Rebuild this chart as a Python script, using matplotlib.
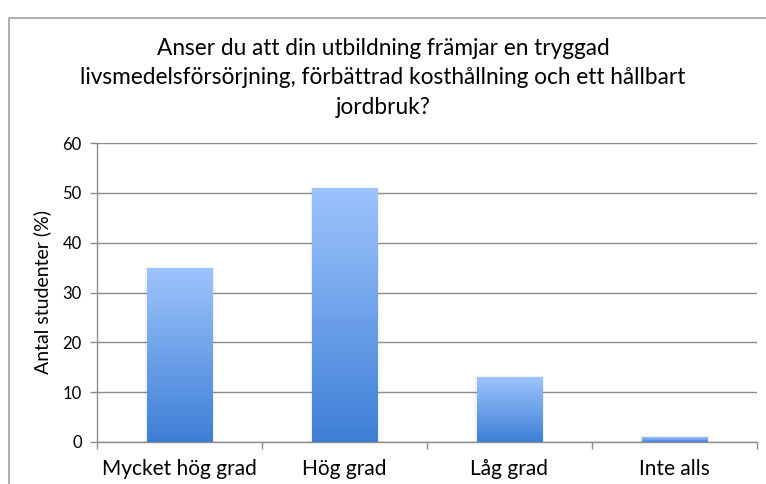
import matplotlib.pyplot as plt
import numpy as np
from matplotlib.colors import LinearSegmentedColormap
from matplotlib.lines import Line2D

categories = ["Mycket hög grad", "Hög grad", "Låg grad", "Inte alls"]
values = [35, 51, 13, 1]
yticks = [0, 10, 20, 30, 40, 50, 60]
title = ("Anser du att din utbildning främjar en tryggad\n"
         "livsmedelsförsörjning, förbättrad kosthållning och ett hållbart\n"
         "jordbruk?")
ylabel = "Antal studenter (%)"

plt.rcParams['font.family'] = ['Lato', 'DejaVu Sans']

W, H = 766, 484
fig = plt.figure(figsize=(W / 100, H / 100), dpi=100)
ax = fig.add_axes([97 / W, 1 - 442 / H, (757 - 97) / W, (442 - 143) / H])

grid_c = "#8c8c8c"
cmap = LinearSegmentedColormap.from_list("bar", ["#3d7fd6", "#9ec4fd"])
x = np.arange(len(categories))
bars = ax.bar(x, values, width=0.4, color="none", edgecolor="none", zorder=3)
grad = np.linspace(0, 1, 256).reshape(-1, 1)
for b in bars:
    x0, w, h = b.get_x(), b.get_width(), b.get_height()
    # soft shadow behind the bar
    ax.bar(x0 + w / 2, h + 0.2, width=w + 0.015, color="#000000", alpha=0.05,
           zorder=2.5, edgecolor="none")
    im = ax.imshow(grad, cmap=cmap, origin="lower", aspect="auto",
                   extent=(x0, x0 + w, 0, h), zorder=3)
    im.set_clip_path(b)

ax.set_xlim(-0.5, len(categories) - 0.5)
ax.set_ylim(0, 60)
ax.set_yticks(yticks)
ax.yaxis.grid(True, color=grid_c, linewidth=1.0, zorder=1)
ax.set_axisbelow(True)
ax.set_xticks(x)
ax.set_xticklabels(categories, fontsize=15)
ax.set_xticks(np.arange(len(categories) + 1) - 0.5, minor=True)
ax.tick_params(axis="x", which="major", length=0, pad=12)
ax.tick_params(axis="x", which="minor", length=5, color=grid_c, width=1)
ax.tick_params(axis="y", length=5, color=grid_c, width=1, labelsize=12, pad=6)
for s in ["top", "right"]:
    ax.spines[s].set_visible(False)
for s in ["left", "bottom"]:
    ax.spines[s].set_color(grid_c)
    ax.spines[s].set_linewidth(1.0)
ax.set_ylabel(ylabel, fontsize=14, labelpad=8)

fig.text(0.5, 1 - 78 / H, title, ha="center", va="center", fontsize=16.3,
         linespacing=1.52)

# outer border of the chart area
fig.add_artist(Line2D([9 / W, 9 / W, 1.0], [0.0, 1 - 18 / H, 1 - 18 / H],
                      transform=fig.transFigure, color="#a0a0a0", linewidth=1.2))

fig.savefig("out.png", dpi=100)
